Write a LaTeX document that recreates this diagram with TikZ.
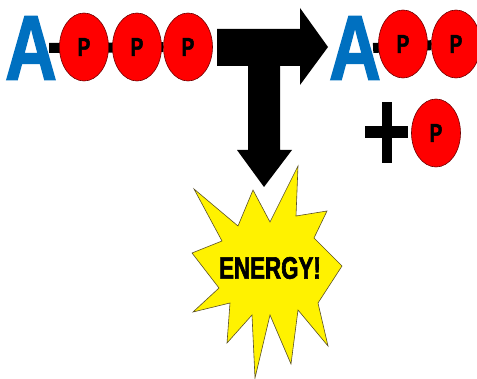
\documentclass[tikz,border=0pt]{standalone}
\usepackage{fontspec}
\setmainfont{Liberation Sans}
\newfontfamily\narrowbf{Liberation Sans Bold}[FakeStretch=0.72, FakeBold=2]
\newfontfamily\widebf{Liberation Sans Bold}[FakeStretch=0.78, FakeBold=1.5]
\definecolor{adenblue}{RGB}{0,112,192}
\definecolor{starline}{RGB}{90,80,40}
\usetikzlibrary{shapes.geometric, backgrounds}

\begin{document}
\begin{tikzpicture}[x=1pt, y=-1pt,
		phos/.style={ellipse, draw=black!55!red, fill=red, line width=0.6pt, minimum width=49pt, minimum height=68pt, inner sep=0pt, font=\narrowbf\fontsize{26}{26}\selectfont},
		aden/.style={text=adenblue, inner sep=0pt, font=\widebf\fontsize{92}{92}\selectfont},
		bond/.style={line width=10pt, black}]
		% Bildbereich
		\useasboundingbox (0,0) rectangle (477,379);
		% ATP links
		\node[aden] (a1) at (31,48) {A};
		\node[phos] (p1) at (84,47) {P};
		\node[phos] (p2) at (137,47) {P};
		\node[phos] (p3) at (188,47) {P};
		% ADP rechts
		\node[aden] (a2) at (355,48) {A};
		\node[phos] (q1) at (403,44) {P};
		\node[phos] (q2) at (456,44) {P};
		% freies Phosphat
		\node[phos] (q3) at (436,133) {P};
		% Bindungen
		\begin{scope}[on background layer]
			\draw[bond] ([xshift=-8pt]a1.east) -- (p3);
			\draw[bond] ([xshift=-8pt]a2.east) -- (q2);
		\end{scope}
		% Plus
		\fill (365,126) rectangle (408,138);
		\fill (382,102) rectangle (392,163);
		% T-Pfeil
		\fill (217,29) -- (300,29) -- (300,8) -- (328,47) -- (300,85) -- (300,66)
			-- (280,66) -- (280,150) -- (292,150) -- (264,187) -- (237,150) -- (248,150)
			-- (248,66) -- (217,66) -- cycle;
		% Stern
		\filldraw[fill=yellow, draw=starline, line width=0.6pt]
			(194,189) -- (238,226) -- (253,190) -- (270,222) -- (298,166) -- (296,216)
			-- (327,211) -- (314,238) -- (342,266) -- (318,303) -- (328,346) -- (298,310)
			-- (291,364) -- (270,315) -- (255,378) -- (252,315) -- (227,343) -- (230,303)
			-- (193,312) -- (219,288) -- (192,253) -- (222,241) -- cycle;
		\node[inner sep=0pt, font=\narrowbf\fontsize{31}{31}\selectfont] (energy) at (270,268) {ENERGY!};
\end{tikzpicture}
\end{document}
